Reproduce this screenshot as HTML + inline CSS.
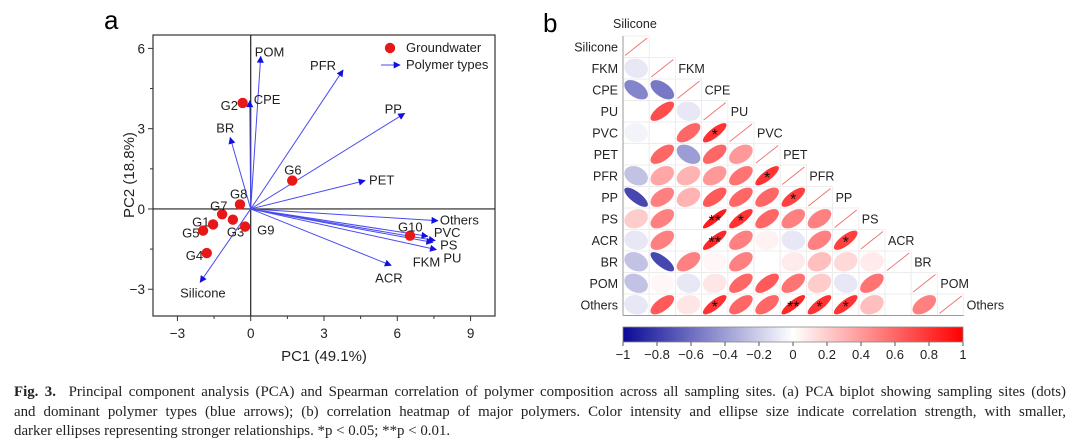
<!DOCTYPE html>
<html><head><meta charset="utf-8"><style>
body{margin:0;background:#fff;width:1080px;height:448px;overflow:hidden;position:relative;font-family:"Liberation Sans",sans-serif}
#cap{position:absolute;left:14px;top:383px;width:1052px;font-family:"Liberation Serif",serif;font-size:14.9px;line-height:19.5px;color:#222}
#cap div{white-space:nowrap;text-align:justify;text-align-last:justify}
#cap div.last{text-align-last:left}
</style></head><body>
<svg id="svg" width="1080" height="448" style="position:absolute;left:0;top:0" font-family="Liberation Sans, sans-serif"></svg>
<div id="cap"><div><b>Fig. 3.</b>&nbsp; Principal component analysis (PCA) and Spearman correlation of polymer composition across all sampling sites. (a) PCA biplot showing sampling sites (dots)</div><div>and dominant polymer types (blue arrows); (b) correlation heatmap of major polymers. Color intensity and ellipse size indicate correlation strength, with smaller,</div><div class="last">darker ellipses representing stronger relationships. *p &lt; 0.05; **p &lt; 0.01.</div></div>
<script>
// ---------- Panel a data ----------
const siteNames=["G1","G2","G3","G4","G5","G6","G7","G8","G9","G10"];
const siteX=[-1.54,-0.33,-0.73,-1.80,-1.95,1.70,-1.17,-0.44,-0.23,6.52];
const siteY=[-0.58,3.96,-0.40,-1.65,-0.81,1.06,-0.20,0.17,-0.66,-1.00];
const polyNames=["POM","PFR","PP","CPE","BR","PET","Others","PVC","PS","PU","FKM","ACR","Silicone"];
const polyX=[0.41,3.78,6.30,-0.04,-0.84,4.68,7.66,7.25,7.55,7.60,7.45,5.75,-2.07];
const polyY=[5.70,5.19,3.57,4.04,2.67,1.06,-0.44,-1.02,-1.18,-1.52,-1.25,-2.11,-2.74];
const xTicks=[-3,0,3,6,9];
const yTicks=[-3,0,3,6];
// ---------- Panel b data ----------
const vars=["Silicone","FKM","CPE","PU","PVC","PET","PFR","PP","PS","ACR","BR","POM","Others"];
const corrRows=[
[],
[-0.1],
[-0.5,-0.55],
[0,0.7,-0.1],
[-0.05,0,0.6,0.8],
[0,0.6,-0.4,0.6,0.4],
[-0.25,0.35,0.3,0.4,0.55,0.8],
[-0.75,0.5,0.3,0.65,0.6,0.6,0.75],
[0.2,0.5,0,0.9,0.8,0.6,0.5,0.5],
[-0.1,0.5,0,0.85,0.5,0.05,-0.1,0.5,0.75],
[-0.25,-0.75,0.5,0.03,0.5,0,0.08,0.25,0.15,0.08],
[-0.25,0.03,-0.1,0.1,0.6,0.65,0.55,0.2,-0.1,0.55,0],
[-0.1,0.65,0.1,0.8,0.6,0.6,0.85,0.8,0.8,0.25,0,0.5]];
const sigRows=[
[],[""],["",""],["","",""],["","","","*"],["","","","",""],["","","","","","*"],
["","","","","","","*"],["","","","**","*","","","",""],["","","","**","","","","","*"],
["","","","","","","","","",""],["","","","","","","","","","",""],
["","","","*","","","**","*","*","","",""]];
const cbTicks=[-1,-0.8,-0.6,-0.4,-0.2,0,0.2,0.4,0.6,0.8,1];

const S=document.getElementById('svg');const NS="http://www.w3.org/2000/svg";
function el(t,a,p){const e=document.createElementNS(NS,t);for(const k in a)e.setAttribute(k,a[k]);(p||S).appendChild(e);return e;}
function tx(x,y,s,a,p){const e=el('text',Object.assign({x:x,y:y},a),p);e.textContent=s;return e;}

// ===== Panel a =====
const L=153,R=495,T=35,B=316,xmin=-4,xmax=10,ymin=-4,ymax=6.5;
const sx=v=>L+(v-xmin)/(xmax-xmin)*(R-L), sy=v=>B-(v-ymin)/(ymax-ymin)*(B-T);
const pa=el('g',{});

let t=tx(104,29,"a",{'font-size':26},pa);
const defs=el('defs',{},pa);
const mk=el('marker',{id:'ah',viewBox:'0 0 10 10',refX:9,refY:5,markerWidth:9,markerHeight:7,orient:'auto',markerUnits:'userSpaceOnUse'},defs);
el('path',{d:'M0,0 L10,5 L0,10 z',fill:'#1010e0'},mk);
let fr=el('rect',{x:L,y:T,width:R-L,height:B-T,fill:'none',stroke:'#333','stroke-width':1.2},pa);

el('line',{x1:sx(0),x2:sx(0),y1:T,y2:B,stroke:'#222','stroke-width':1.2},pa);
el('line',{x1:L,x2:R,y1:sy(0),y2:sy(0),stroke:'#222','stroke-width':1.2},pa);
xTicks.forEach(v=>{el('line',{x1:sx(v),x2:sx(v),y1:B,y2:B+5,stroke:'#333'},pa);
 if(v<9)el('line',{x1:sx(v+1.5),x2:sx(v+1.5),y1:B,y2:B+3,stroke:'#333'},pa);
 const e=tx(sx(v),B+22,v<0?"−"+(-v):String(v),{'font-size':13.5,'text-anchor':'middle',fill:'#222'},pa);
 });
yTicks.forEach(v=>{el('line',{x1:L-5,x2:L,y1:sy(v),y2:sy(v),stroke:'#333'},pa);
 if(v<6)el('line',{x1:L-3,x2:L,y1:sy(v+1.5),y2:sy(v+1.5),stroke:'#333'},pa);
 const e=tx(L-8,sy(v)+5,v<0?"−"+(-v):String(v),{'font-size':13.5,'text-anchor':'end',fill:'#222'},pa);
 });
t=tx(324,361,"PC1 (49.1%)",{'font-size':15,'text-anchor':'middle',fill:'#222'},pa);
t=tx(0,0,"PC2 (18.8%)",{'font-size':15,'text-anchor':'middle',fill:'#222',transform:'translate(134,175) rotate(-90)'},pa);
const labOff={POM:[-6,-4,'start'],PFR:[-33,-4,'start'],PP:[-20,-4,'start'],CPE:[4,-1,'start'],BR:[-14,-9,'start'],PET:[4,0,'start'],Others:[2,0,'start'],PVC:[6,-3,'start'],PS:[5,5,'start'],PU:[7,9,'start'],FKM:[-20,20,'start'],ACR:[-16,13,'start'],Silicone:[-20,11,'start']};
polyNames.forEach((n,i)=>{const a=el('line',{x1:sx(0),y1:sy(0),x2:sx(polyX[i]),y2:sy(polyY[i]),stroke:'#4a4af0','stroke-width':1,'marker-end':'url(#ah)'},pa);
 
 const o=labOff[n];const e=tx(sx(polyX[i])+o[0],sy(polyY[i])+o[1]+4,n,{'font-size':13,fill:'#222','text-anchor':o[2]},pa);
 });
const sOff={G1:[-21,-2],G2:[-22,3],G3:[-6,13],G4:[-21,3],G5:[-21,3],G6:[-8,-10],G7:[-12,-8],G8:[-10,-10],G9:[12,4],G10:[-12,-8]};
siteNames.forEach((n,i)=>{const c=el('circle',{cx:sx(siteX[i]),cy:sy(siteY[i]),r:5.2,fill:'#e81818'},pa);
 
 const o=sOff[n];const e=tx(sx(siteX[i])+o[0],sy(siteY[i])+o[1]+4,n,{'font-size':13,fill:'#222'},pa);
 });
let lg=el('g',{},pa);
el('circle',{cx:390,cy:48,r:5.2,fill:'#e81818'},lg);
tx(406,52,"Groundwater",{'font-size':13,fill:'#222'},lg);
el('line',{x1:381,y1:65,x2:400,y2:65,stroke:'#4a4af0','marker-end':'url(#ah)'},lg);
tx(406,69,"Polymer types",{'font-size':13,fill:'#222'},lg);

// ===== Panel b =====
const gx=623,gy=36,cw=26.2,ch=21.5,n=vars.length;
const pb=el('g',{});
t=tx(543,32,"b",{'font-size':26},pb);
function col(r){const a=Math.min(1,Math.abs(r));let c=r>=0?[255,0,0]:[10,10,150];
 return 'rgb('+c.map(v=>Math.round(255+(v-255)*a)).join(',')+')';}
for(let i=0;i<n;i++)for(let j=0;j<=i;j++){el('rect',{x:gx+j*cw,y:gy+i*ch,width:cw,height:ch,fill:'none',stroke:'#ececec','stroke-width':0.8},pb);}
el('line',{x1:gx,y1:gy,x2:gx,y2:gy+n*ch,stroke:'#999','stroke-width':1},pb);
el('line',{x1:gx,y1:gy+n*ch,x2:gx+n*cw,y2:gy+n*ch,stroke:'#999','stroke-width':1},pb);
for(let i=0;i<n;i++){
 const e=tx(gx-5,gy+i*ch+ch/2+4.5,vars[i],{'font-size':12.5,'text-anchor':'end',fill:'#222'},pb);
 
 const d=el('line',{x1:gx+i*cw+2,y1:gy+(i+1)*ch-2,x2:gx+(i+1)*cw-2,y2:gy+i*ch+2,stroke:'#f07070','stroke-width':0.9},pb);
 
 const lx=i==0?gx-10:gx+(i+1)*cw+3, ly=i==0?gy-8:gy+i*ch+ch/2+4.5;
 const f=tx(lx,ly,vars[i],{'font-size':12.5,fill:'#222'},pb);
 
}
for(let i=1;i<n;i++)for(let j=0;j<i;j++){const r=corrRows[i][j];const cx=gx+j*cw+cw/2,cy=gy+i*ch+ch/2;
 const dd=Math.acos(Math.max(-1,Math.min(1,r)));let p="";
 for(let k=0;k<=48;k++){const th=k/48*2*Math.PI;const x=Math.cos(th+dd/2),y=Math.cos(th-dd/2);
  p+=(k?"L":"M")+(cx+x*cw*0.45).toFixed(2)+","+(cy-y*ch*0.45).toFixed(2);}
 const e=el('path',{d:p+"Z",fill:col(r),stroke:'none'},pb);
 
 const s=sigRows[i][j];if(s){const q=tx(cx,cy+7,s,{'font-size':16,'text-anchor':'middle',fill:'#111'},pb);
  }}
const cb0=623,cb1=963,cby=327,cbh=15;
const gd=el('linearGradient',{id:'cbg',x1:0,x2:1,y1:0,y2:0},defs);
[-1,-0.5,0,0.5,1].forEach(v=>el('stop',{offset:(v+1)/2,'stop-color':col(v)},gd));
let cb=el('rect',{x:cb0,y:cby,width:cb1-cb0,height:cbh,fill:'url(#cbg)',stroke:'#888','stroke-width':0.8},pb);

cbTicks.forEach(v=>{const x=cb0+(v+1)/2*(cb1-cb0);el('line',{x1:x,x2:x,y1:cby+cbh,y2:cby+cbh+4,stroke:'#555'},pb);
 const e=tx(x,cby+cbh+17,v<0?"−"+(-v):String(v),{'font-size':13,'text-anchor':'middle',fill:'#222'},pb);
 });
</script>
</body></html>
